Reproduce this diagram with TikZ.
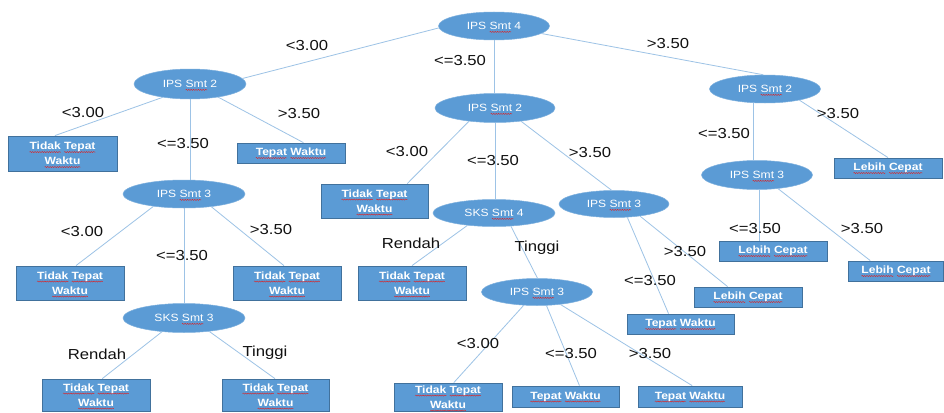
\documentclass[tikz,border=0pt]{standalone}
\usepackage{fontspec}
\setmainfont{Liberation Sans}
\newfontfamily\lblfont[FakeStretch=1.15]{Liberation Sans}
\newfontfamily\ndfont[FakeStretch=1.15]{Liberation Sans}
\usetikzlibrary{shapes.geometric,decorations.pathmorphing}
\definecolor{nodeblue}{HTML}{5B9BD5}
\definecolor{boxedge}{HTML}{41719C}
\definecolor{edgeblue}{HTML}{9DC3E6}
\definecolor{lbl}{HTML}{111111}
\definecolor{wavered}{HTML}{E02020}
\newlength\wvw
\newcommand\wv[1]{\setbox0\hbox{#1}\wvw=\wd0\relax\rlap{\tikz[overlay,baseline=0pt]\draw[wavered,line width=0.4pt,decorate,decoration={snake,amplitude=0.55pt,segment length=2.4pt}] (0pt,-2.3pt) -- (\wvw,-2.3pt);}\box0\relax}
\begin{document}
\begin{tikzpicture}[x=1pt,y=-1pt,
 ell/.style={ellipse,fill=nodeblue,draw=nodeblue!80!white,line width=0.5pt,inner sep=0pt,text=white,font=\ndfont\fontsize{10.5}{12}\selectfont},
 leaf/.style={rectangle,fill=nodeblue,draw=boxedge,line width=0.8pt,inner sep=0pt,text=white,align=center,font=\ndfont\bfseries\fontsize{10.5}{15}\selectfont},
 lab/.style={text=lbl,font=\lblfont\fontsize{14.5}{16}\selectfont,inner sep=0pt},
 conn/.style={draw=edgeblue,line width=0.8pt}]
\fill[white] (0,0) rectangle (944,412);
\useasboundingbox (0,0) rectangle (944,412);

% decision nodes
\node[ell,minimum width=111pt,minimum height=28pt] (root) at (494,26) {IPS \wv{Smt} 4};
\node[ell,minimum width=112pt,minimum height=30pt] (L2) at (190,84) {IPS \wv{Smt} 2};
\node[ell,minimum width=120pt,minimum height=29pt] (M2) at (495,108) {IPS \wv{Smt} 2};
\node[ell,minimum width=111pt,minimum height=28pt] (R2) at (765,89) {IPS \wv{Smt} 2};
\node[ell,minimum width=122pt,minimum height=28pt] (L3) at (184,194) {IPS \wv{Smt} 3};
\node[ell,minimum width=122pt,minimum height=29pt] (LS3) at (184,318) {SKS \wv{Smt} 3};
\node[ell,minimum width=122pt,minimum height=27pt] (M4) at (494,213) {SKS \wv{Smt} 4};
\node[ell,minimum width=110pt,minimum height=27pt] (M3r) at (614,204) {IPS \wv{Smt} 3};
\node[ell,minimum width=111pt,minimum height=27pt] (M3) at (537,292) {IPS \wv{Smt} 3};
\node[ell,minimum width=111pt,minimum height=29pt] (R3) at (757,175) {IPS \wv{Smt} 3};

% leaves
\node[leaf,minimum width=109pt,minimum height=35pt] (bL1) at (62.5,153.5) {\wv{Tidak} \wv{Tepat}\\\wv{Waktu}};
\node[leaf,minimum width=108pt,minimum height=20pt] (bL2) at (291,153) {\wv{Tepat} \wv{Waktu}};
\node[leaf,minimum width=108pt,minimum height=34pt] (bL3) at (70,283) {\wv{Tidak} \wv{Tepat}\\\wv{Waktu}};
\node[leaf,minimum width=108pt,minimum height=34pt] (bL4) at (287,283) {\wv{Tidak} \wv{Tepat}\\\wv{Waktu}};
\node[leaf,minimum width=108pt,minimum height=32pt] (bL5) at (96,395) {\wv{Tidak} \wv{Tepat}\\\wv{Waktu}};
\node[leaf,minimum width=107pt,minimum height=32pt] (bL6) at (275.5,395) {\wv{Tidak} \wv{Tepat}\\\wv{Waktu}};
\node[leaf,minimum width=107pt,minimum height=34pt] (bM1) at (374.5,201) {\wv{Tidak} \wv{Tepat}\\\wv{Waktu}};
\node[leaf,minimum width=108pt,minimum height=34pt] (bM2) at (412,283) {\wv{Tidak} \wv{Tepat}\\\wv{Waktu}};
\node[leaf,minimum width=108pt,minimum height=28pt] (bM3) at (448,397) {\wv{Tidak} \wv{Tepat}\\\wv{Waktu}};
\node[leaf,minimum width=107pt,minimum height=21pt] (bM4) at (565.5,396.5) {\wv{Tepat} \wv{Waktu}};
\node[leaf,minimum width=104pt,minimum height=21pt] (bM5) at (690,396.5) {\wv{Tepat} \wv{Waktu}};
\node[leaf,minimum width=107pt,minimum height=20pt] (bM6) at (680.5,324) {\wv{Tepat} \wv{Waktu}};
\node[leaf,minimum width=108pt,minimum height=20pt] (bM7) at (748,297) {\wv{Lebih} \wv{Cepat}};
\node[leaf,minimum width=108pt,minimum height=20pt] (bR1) at (888,168) {\wv{Lebih} \wv{Cepat}};
\node[leaf,minimum width=108pt,minimum height=20pt] (bR2) at (773,251) {\wv{Lebih} \wv{Cepat}};
\node[leaf,minimum width=95pt,minimum height=20pt] (bR3) at (896,271) {\wv{Lebih} \wv{Cepat}};

% connectors
\draw[conn] (root.182) -- (L2.6);
\draw[conn] (root.south) -- (root.south |- M2.north);
\draw[conn] (root.-9) -- (R2.97);
\draw[conn] (L2.-154) -- (bL1.113);
\draw[conn] (L2.south) -- (L2.south |- L3.north);
\draw[conn] (L2.-25) -- (bL2.40);
\draw[conn] (L3.-158) -- (bL3.71);
\draw[conn] (L3.south) -- (LS3.north);
\draw[conn] (L3.-25) -- (bL4.100);
\draw[conn] (LS3.-148) -- (bL5.69);
\draw[conn] (LS3.-28) -- (bL6.92);
\draw[conn] (M2.-153) -- (bM1.28);
\draw[conn] (M2.south) -- (M2.south |- M4.north);
\draw[conn] (M2.-27) -- (M3r.100);
\draw[conn] (M4.-155) -- (bM2.north);
\draw[conn] (M4.-38) -- (M3.88);
\draw[conn] (M3.-135) -- (bM3.68);
\draw[conn] (M3.-55) -- (bM4.38);
\draw[conn] (M3.-28) -- (bM5.79);
\draw[conn] (M3r.-45) -- (bM6.139);
\draw[conn] (M3r.-25) -- (bM7.153);
\draw[conn] (R2.-130) -- (R2.-130 |- R3.north);
\draw[conn] (R2.-18) -- (bR1.north);
\draw[conn] (R3.-80) -- (R3.-80 |- bR2.north);
\draw[conn] (R3.-33) -- (bR3.158);

% labels
\node[lab] (t1) at (307,46) {<3.00};
\node[lab] (t2) at (460,61) {<=3.50};
\node[lab] (t3) at (668,44) {>3.50};
\node[lab] (t4) at (83,113) {<3.00};
\node[lab] (t5) at (183,144) {<=3.50};
\node[lab] (t6) at (299,114) {>3.50};
\node[lab] (t7) at (82,232) {<3.00};
\node[lab] (t8) at (182,256) {<=3.50};
\node[lab] (t9) at (271,230) {>3.50};
\node[lab] (t10) at (97,354) {Rendah};
\node[lab] (t11) at (265,353) {Tinggi};
\node[lab] (t12) at (407,152) {<3.00};
\node[lab] (t13) at (493,161) {<=3.50};
\node[lab] (t14) at (590,153) {>3.50};
\node[lab] (t15) at (411,243) {Rendah};
\node[lab] (t16) at (537,248) {Tinggi};
\node[lab] (t17) at (478,344) {<3.00};
\node[lab] (t18) at (571,354) {<=3.50};
\node[lab] (t19) at (650,354) {>3.50};
\node[lab] (t20) at (685,252) {>3.50};
\node[lab] (t21) at (650,281) {<=3.50};
\node[lab] (t22) at (724,134) {<=3.50};
\node[lab] (t23) at (838,114) {>3.50};
\node[lab] (t24) at (755,229) {<=3.50};
\node[lab] (t25) at (862,229) {>3.50};
\end{tikzpicture}
\end{document}
